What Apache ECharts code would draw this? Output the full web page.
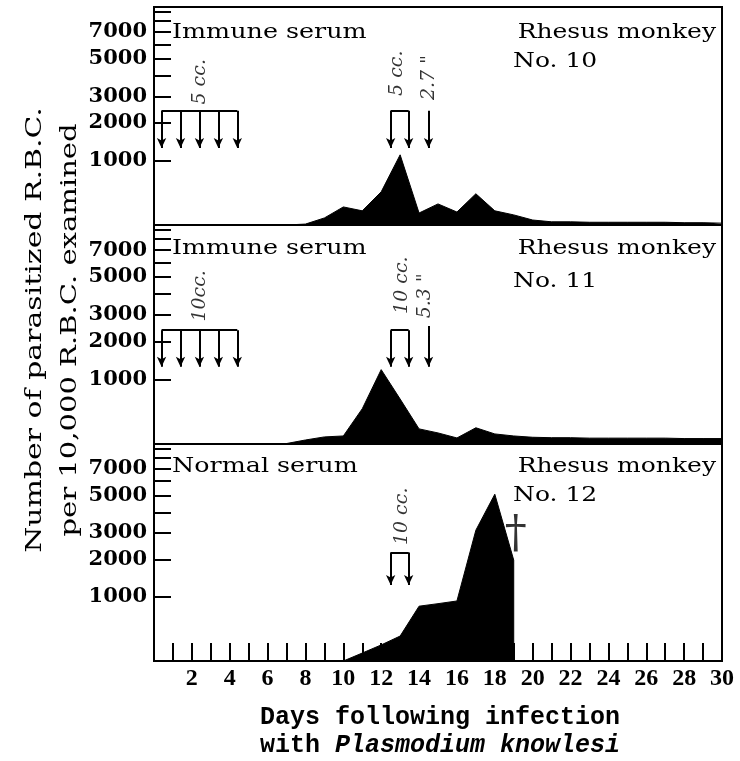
<!DOCTYPE html>
<html>
<head>
<meta charset="utf-8">
<script src="https://cdn.jsdelivr.net/npm/echarts@6/dist/echarts.min.js"></script>
<style>
  html, body { margin: 0; padding: 0; background: #fff; }
  #main { width: 740px; height: 761px; }
</style>
</head>
<body>
<div id="main"></div>
<script>
// days after infection
var days = [0, 1, 2, 3, 4, 5, 6, 7, 8, 9, 10, 11, 12, 13, 14, 15, 16, 17, 18, 19, 20,
            21, 22, 23, 24, 25, 26, 27, 28, 29, 30];

// parasitized RBC per 10,000 RBC
var monkey10 = [0, 0, 0, 0, 0, 0, 0, 0, 10, 79, 215, 165, 430, 1130, 138, 255, 150, 400, 165, 115, 55,
                35, 35, 30, 30, 30, 30, 30, 25, 25, 20];
var monkey11 = [0, 0, 0, 0, 0, 0, 0, 5, 44, 79, 90, 460, 1220, 620, 176, 126, 67, 190, 114, 90, 75,
                70, 70, 65, 65, 65, 65, 65, 60, 60, 60];
var monkey12 = [0, 0, 0, 0, 0, 0, 0, 0, 0, 0, 0, 90, 190, 310, 810, 860, 915, 3120, 5080, 1980];
var deathDay = 19;

// serum injections (days)
var doseDaysEarly = [0.4, 1.4, 2.4, 3.4, 4.4];
var doseDaysLate = [12.5, 13.45];
var extraDoseDay = 14.5;

var yTickValues = [1000, 2000, 3000, 4000, 5000, 6000, 7000, 8000, 9000];
var yLabelValues = [1000, 2000, 3000, 5000, 7000];
var xTickDays = [1, 2, 3, 4, 5, 6, 7, 8, 9, 10, 11, 12, 13, 14, 15, 16, 17, 18, 19, 20,
                 21, 22, 23, 24, 25, 26, 27, 28, 29];
var xLabelDays = [2, 4, 6, 8, 10, 12, 14, 16, 18, 20, 22, 24, 26, 28, 30];

// the ordinate of the figure is log(count + 1000)
function toT(v) { return Math.log10(v / 1000 + 1); }
function fromT(t) { return (Math.pow(10, t) - 1) * 1000; }

function pairs(vals) {
  return vals.map(function (v, i) { return [days[i], toT(v)]; });
}

var panels = [
  {
    data: pairs(monkey10), top: 7, height: 218,
    serum: 'Immune serum', no: 'No. 10', titleY: 33, noY: 62,
    early: true, bracketT: 0.535, tipT: 0.36, extra: true, extraTopT: 0.535,
    texts: [
      { name: '5 cc.', value: [2.42, 0.67] },
      { name: '5 cc.', value: [12.86, 0.71] },
      { name: '2.7 "', value: [14.55, 0.69] }
    ]
  },
  {
    data: pairs(monkey11), top: 225, height: 219,
    serum: 'Immune serum', no: 'No. 11', titleY: 249, noY: 282,
    early: true, bracketT: 0.53, tipT: 0.36, extra: true, extraTopT: 0.55,
    texts: [
      { name: '10cc.', value: [2.42, 0.69] },
      { name: '10 cc.', value: [13.1, 0.74] },
      { name: '5.3 "', value: [14.3, 0.69] }
    ]
  },
  {
    data: pairs(monkey12).concat([[deathDay, 0]]), top: 444, height: 217,
    serum: 'Normal serum', no: 'No. 12', titleY: 467, noY: 496,
    early: false, bracketT: 0.51, tipT: 0.357, extra: false,
    texts: [
      { name: '10 cc.', value: [13.1, 0.68] }
    ]
  }
];

function arrow(x, t0, t1) {
  return [{ coord: [x, t0], symbol: 'none' }, { coord: [x, t1], symbol: 'arrow' }];
}
function bar(x0, x1, t) {
  return [{ coord: [x0, t], symbol: 'none' }, { coord: [x1, t], symbol: 'none' }];
}

var grids = [], xAxes = [], yAxes = [], series = [], graphics = [];

panels.forEach(function (p, i) {
  var last = i === panels.length - 1;
  grids.push({
    left: 154, right: 18, top: p.top, height: p.height,
    show: true, borderColor: '#000', borderWidth: 2, backgroundColor: 'transparent'
  });
  xAxes.push({
    type: 'value', gridIndex: i, min: 0, max: 30,
    axisLine: { show: true, lineStyle: { color: '#000', width: 2 } },
    splitLine: { show: false },
    axisTick: {
      show: last, inside: true, length: 18, customValues: xTickDays,
      lineStyle: { color: '#000', width: 2 }
    },
    axisLabel: {
      show: last, customValues: xLabelDays, margin: 6, color: '#000',
      fontFamily: 'Liberation Serif', fontWeight: 'bold', fontSize: 24
    }
  });
  yAxes.push({
    type: 'value', gridIndex: i, min: 0, max: 1.02,
    axisLine: { show: true, lineStyle: { color: '#000', width: 2 } },
    splitLine: { show: false },
    axisTick: {
      inside: true, length: 17, customValues: yTickValues.map(toT),
      lineStyle: { color: '#000', width: 2 }
    },
    axisLabel: {
      customValues: yLabelValues.map(toT), margin: 7, color: '#000',
      fontFamily: 'DejaVu Serif', fontWeight: 'bold', fontSize: 21,
      formatter: function (t) { return String(Math.round(fromT(t) / 1000) * 1000); }
    }
  });

  var lines = [];
  if (p.early) {
    lines.push(bar(doseDaysEarly[0], doseDaysEarly[doseDaysEarly.length - 1], p.bracketT));
    doseDaysEarly.forEach(function (d) { lines.push(arrow(d, p.bracketT, p.tipT)); });
  }
  lines.push(bar(doseDaysLate[0], doseDaysLate[1], p.bracketT));
  doseDaysLate.forEach(function (d) { lines.push(arrow(d, p.bracketT, p.tipT)); });
  if (p.extra) lines.push(arrow(extraDoseDay, p.extraTopT, p.tipT));

  series.push({
    type: 'line', xAxisIndex: i, yAxisIndex: i, data: p.data,
    symbol: 'none', silent: true,
    lineStyle: { color: '#000', width: 1 },
    areaStyle: { color: '#000', opacity: 1 },
    markLine: {
      silent: true, symbolSize: [7, 10], precision: 4,
      label: { show: false },
      lineStyle: { color: '#000', type: 'solid', width: 2 },
      emphasis: { disabled: true },
      data: lines
    }
  });

  series.push({
    type: 'scatter', xAxisIndex: i, yAxisIndex: i, silent: true,
    symbolSize: 1, itemStyle: { color: 'rgba(0,0,0,0)' },
    label: {
      show: true, position: 'inside', rotate: 90, formatter: '{b}', color: '#000',
      fontFamily: 'DejaVu Serif', fontStyle: 'italic', fontSize: 19
    },
    data: p.texts
  });

  if (last) {
    series.push({
      type: 'scatter', xAxisIndex: i, yAxisIndex: i, silent: true,
      symbolSize: 1, itemStyle: { color: 'rgba(0,0,0,0)' },
      label: {
        show: true, position: 'inside', formatter: '{b}', color: '#000',
        fontFamily: 'DejaVu Serif', fontSize: 44
      },
      data: [{ name: '\u2020', value: [deathDay + 0.1, 0.59] }]
    });
  }

  graphics.push({
    type: 'text', x: 172, y: p.titleY, scaleX: 1.27,
    style: { text: p.serum, fontFamily: 'DejaVu Serif', fontSize: 20, fill: '#000',
             align: 'left', verticalAlign: 'middle' }
  });
  graphics.push({
    type: 'text', x: 716, y: p.titleY, scaleX: 1.25,
    style: { text: 'Rhesus monkey', fontFamily: 'DejaVu Serif', fontSize: 20, fill: '#000',
             align: 'right', verticalAlign: 'middle' }
  });
  graphics.push({
    type: 'text', x: 513, y: p.noY, scaleX: 1.25,
    style: { text: p.no, fontFamily: 'DejaVu Serif', fontSize: 20, fill: '#000',
             align: 'left', verticalAlign: 'middle' }
  });
});

// axis titles
graphics.push({
  type: 'text', x: 35, y: 330, rotation: Math.PI / 2, scaleX: 1.36,
  style: { text: 'Number of parasitized R.B.C.', fontFamily: 'DejaVu Serif', fontSize: 22,
           fill: '#000', align: 'center', verticalAlign: 'middle' }
});
graphics.push({
  type: 'text', x: 70, y: 330, rotation: Math.PI / 2, scaleX: 1.32,
  style: { text: 'per 10,000 R.B.C. examined', fontFamily: 'DejaVu Serif', fontSize: 22,
           fill: '#000', align: 'center', verticalAlign: 'middle' }
});
graphics.push({
  type: 'text', x: 440, y: 718,
  style: { text: 'Days following infection', fontFamily: 'Liberation Mono', fontWeight: 'bold',
           fontSize: 25, fill: '#000', align: 'center', verticalAlign: 'middle' }
});
graphics.push({
  type: 'text', x: 440, y: 746,
  style: {
    text: 'with {i|Plasmodium knowlesi}', fontFamily: 'Liberation Mono', fontWeight: 'bold',
    fontSize: 25, fill: '#000', align: 'center', verticalAlign: 'middle',
    rich: { i: { fontFamily: 'Liberation Mono', fontWeight: 'bold', fontStyle: 'italic', fontSize: 25 } }
  }
});

var chart = echarts.init(document.getElementById('main'), null, { renderer: 'canvas' });
chart.setOption({
  animation: false,
  backgroundColor: '#fff',
  grid: grids,
  xAxis: xAxes,
  yAxis: yAxes,
  series: series,
  graphic: graphics
});
</script>
</body>
</html>
